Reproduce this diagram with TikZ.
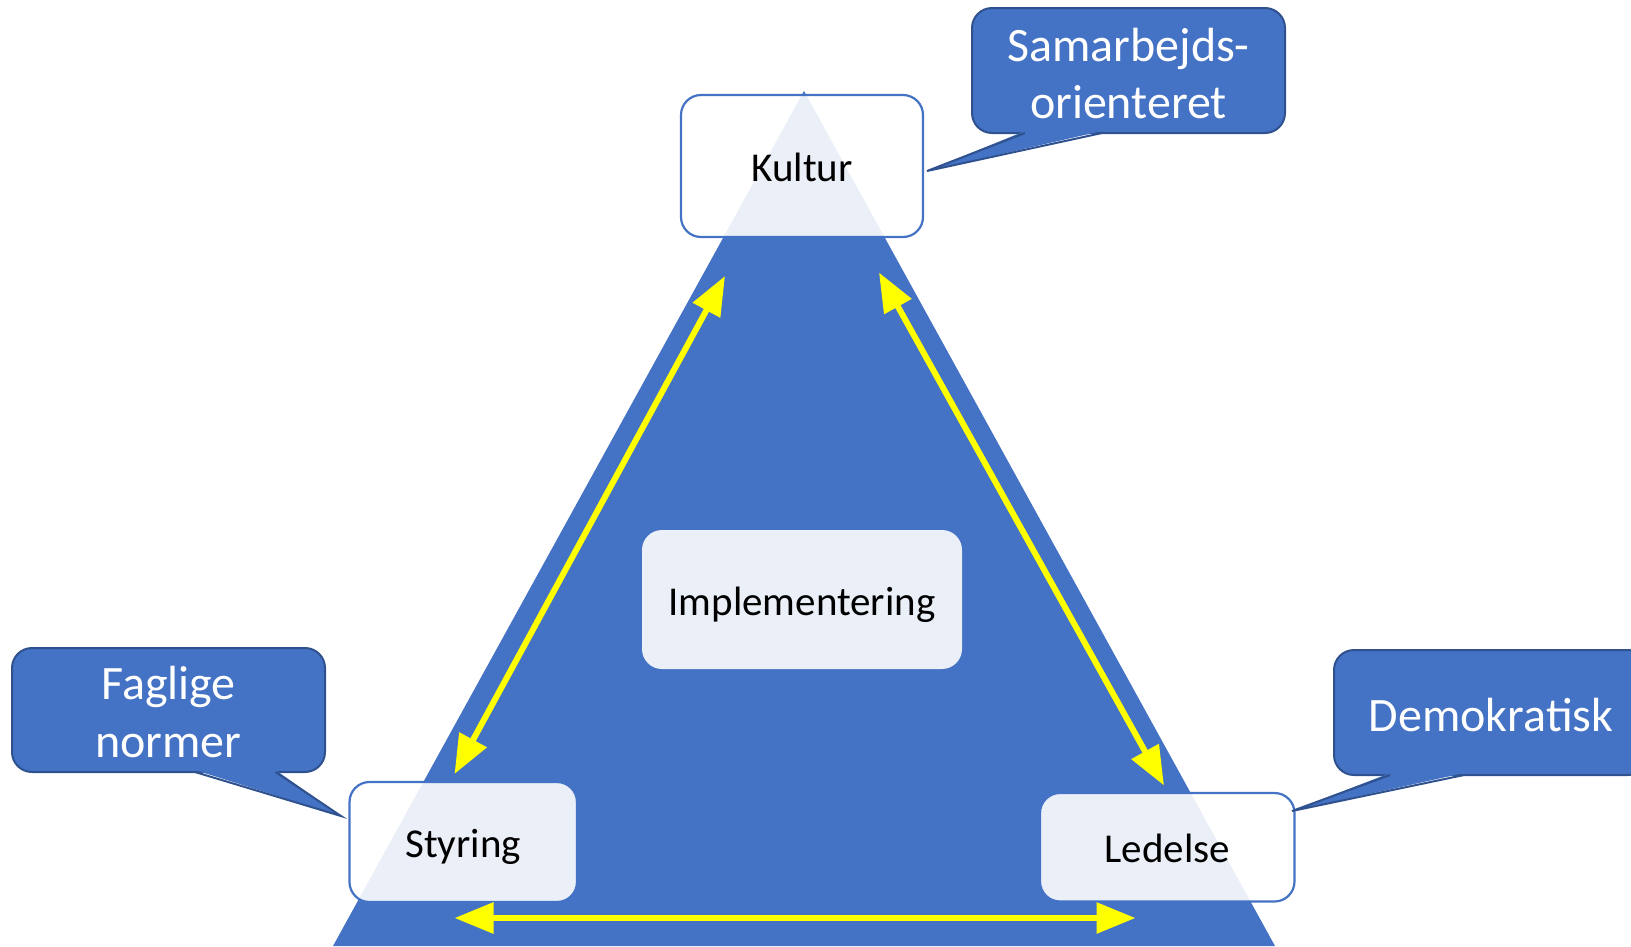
\documentclass[tikz,border=0pt]{standalone}
\usepackage{fontspec}
\setmainfont{Carlito}
\usetikzlibrary{arrows.meta}
\definecolor{tblue}{HTML}{4472C4}
\definecolor{tdark}{HTML}{2F528F}
\definecolor{tyel}{HTML}{FFFF00}
\begin{document}
\begin{tikzpicture}[x=1pt,y=-1pt,
  box/.style={rectangle, rounded corners=20pt, draw=tblue, line width=2.2pt,
    fill=white, fill opacity=0.89, draw opacity=1, text opacity=1,
    inner sep=0pt, text height=31pt, text depth=0pt, text=black,
    font=\fontsize{41}{49}\selectfont},
  callout/.style={rectangle, rounded corners=20pt, draw=tdark, line width=2pt,
    fill=tblue, inner sep=0pt},
  callouttext/.style={text=white, align=center, inner sep=0pt},
  tail/.style={fill=tblue},
  tailedge/.style={draw=tdark, line width=2pt, line join=miter},
  yarrow/.style={draw=tyel, line width=6pt,
    {Triangle[length=39pt,width=30pt]}-{Triangle[length=39pt,width=30pt]}}
]
\useasboundingbox (0,0) rectangle (1631,946);
\clip (0,0) rectangle (1631,946);

% triangle
\fill[tblue] (804,91) -- (1275,946) -- (333,946) -- cycle;

% boxes
\node[box, minimum width=242pt, minimum height=142pt] (kultur) at (802,166) {Kultur};
\node[box, minimum width=227.5pt, minimum height=120pt] (styring) at (463.25,842) {Styring};
\node[box, minimum width=254.5pt, minimum height=108.5pt] (ledelse) at (1167.25,847.25) {Ledelse};
\node[box, draw=none, minimum width=320pt, minimum height=139pt] (impl) at (802,599.5) {Implementering};

% callouts
\node[callout, minimum width=313pt, minimum height=125pt] (samar) at (1128.5,70.5) {};
\node[callouttext, font=\fontsize{48}{57}\selectfont] (samartext) at (1128.5,73.5) {Samarbejds-\\orienteret};
\coordinate (samartip) at (927,171);
\fill[tail] (1025,131) -- (samartip) -- (1102,131) -- cycle;
\draw[tailedge] (1025,133) -- (samartip) -- (1102,133);

\node[callout, minimum width=313pt, minimum height=124pt] (fag) at (168.5,710) {};
\node[callouttext, font=\fontsize{48}{58}\selectfont] (fagtext) at (168.5,712) {Faglige\\normer};
\coordinate (fagtip) at (341,816);
\fill[tail] (195,770) -- (fagtip) -- (275.5,770) -- cycle;
\draw[tailedge] (195,772) -- (fagtip) -- (275.5,772);

\node[callout, minimum width=314pt, minimum height=125pt] (demo) at (1491,712.5) {};
\node[callouttext, font=\fontsize{48}{58}\selectfont] (demotext) at (1491,714.5) {Demokratisk};
\coordinate (demotip) at (1292,811);
\fill[tail] (1390,773) -- (demotip) -- (1464,773) -- cycle;
\draw[tailedge] (1390,775) -- (demotip) -- (1464,775);

% arrows
\coordinate (k1) at (725,276);
\coordinate (s1) at (454.5,774);
\coordinate (k2) at (879,272.5);
\coordinate (l1) at (1164,785.5);
\coordinate (s2) at (454.5,918);
\coordinate (l2) at (1135.5,918);
\draw[yarrow] (k1) -- (s1);
\draw[yarrow] (k2) -- (l1);
\draw[yarrow] (s2) -- (l2);
\end{tikzpicture}
\end{document}
